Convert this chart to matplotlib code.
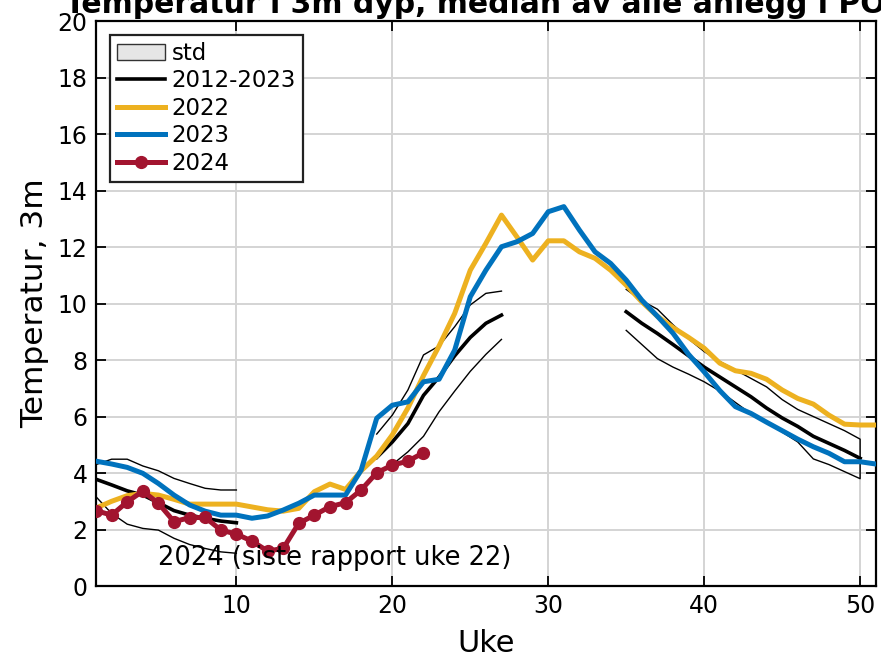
import numpy as np
import matplotlib
matplotlib.use("Agg")
import matplotlib.pyplot as plt
from matplotlib.patches import Patch
from matplotlib.lines import Line2D

nan = np.nan

# ---- data ----
weeks = np.arange(1, 52)

y2022 = [2.76, 3.00, 3.20, 3.28, 3.22, 3.07, 2.90, 2.90, 2.90, 2.90,
         2.80, 2.70, 2.65, 2.75, 3.34, 3.61, 3.42, 4.08, 4.60, 5.35,
         6.30, 7.45, 8.50, 9.65, 11.18, 12.13, 13.13, 12.35, 11.54, 12.22,
         12.22, 11.83, 11.60, 11.18, 10.65, 10.06, 9.55, 9.15, 8.80, 8.42,
         7.89, 7.62, 7.53, 7.32, 6.94, 6.64, 6.44, 6.05, 5.73, 5.70, 5.70]

y2023 = [4.42, 4.32, 4.20, 3.99, 3.63, 3.22, 2.87, 2.65, 2.51, 2.51,
         2.40, 2.48, 2.69, 2.93, 3.22, 3.22, 3.22, 4.10, 5.94, 6.40,
         6.52, 7.23, 7.32, 8.35, 10.24, 11.18, 12.01, 12.19, 12.48, 13.25,
         13.43, 12.60, 11.83, 11.42, 10.83, 10.12, 9.55, 8.95, 8.20, 7.58,
         6.92, 6.35, 6.11, 5.80, 5.50, 5.20, 4.93, 4.70, 4.40, 4.40, 4.32]

weeks_2024 = np.arange(1, 23)
y2024 = [2.67, 2.51, 2.98, 3.36, 2.93, 2.28, 2.42, 2.43, 1.98, 1.84,
         1.59, 1.24, 1.33, 2.22, 2.51, 2.81, 2.95, 3.40, 4.01, 4.28,
         4.42, 4.72]

weeks_std = np.arange(1, 51)
median_2012_2023 = [3.78, 3.58, 3.37, 3.22, 2.95, 2.67, 2.51, 2.40, 2.30, 2.24,
                    nan, nan, nan, nan, nan, nan, nan, nan, 4.55, 5.10,
                    5.75, 6.75, 7.40, 8.15, 8.80, 9.30, 9.59, nan, nan, nan,
                    nan, nan, nan, nan, 9.71, 9.30, 8.94, 8.55, 8.15, 7.75,
                    7.40, 7.05, 6.70, 6.30, 5.95, 5.65, 5.30, 5.05, 4.80, 4.52]
std_upper = [4.30, 4.49, 4.49, 4.25, 4.08, 3.81, 3.63, 3.46, 3.40, 3.40,
             nan, nan, nan, nan, nan, nan, nan, nan, 5.38, 6.05,
             6.94, 8.18, 8.50, 9.18, 9.95, 10.36, 10.44, nan, nan, nan,
             nan, nan, nan, nan, 10.50, 10.10, 9.80, 9.25, 8.75, 8.30,
             7.95, 7.65, 7.35, 7.05, 6.60, 6.25, 6.00, 5.75, 5.50, 5.20]
std_lower = [3.16, 2.57, 2.19, 2.04, 1.98, 1.69, 1.47, 1.33, 1.21, 1.16,
             nan, nan, nan, nan, nan, nan, nan, nan, 3.95, 4.30,
             4.75, 5.30, 6.17, 6.90, 7.60, 8.20, 8.73, nan, nan, nan,
             nan, nan, nan, nan, 9.05, 8.55, 8.05, 7.75, 7.50, 7.23,
             6.90, 6.50, 6.10, 5.80, 5.45, 5.10, 4.50, 4.30, 4.05, 3.80]

title = "Temperatur i 3m dyp, median av alle anlegg i PO3"
xlabel = "Uke"
ylabel = "Temperatur, 3m"
note = "2024 (siste rapport uke 22)"
legend_labels = ["std", "2012-2023", "2022", "2023", "2024"]

c2022 = "#EDB120"
c2023 = "#0072BD"
c2024 = "#A2142F"

plt.rcParams['font.family'] = ['DejaVu Sans']

fig = plt.figure(figsize=(8.81, 6.57), dpi=100)
ax = fig.add_axes([0.109, 0.108, 0.885, 0.860])

# std band outline (polygon edge, drawn as thin line)
wb = np.concatenate([weeks_std, weeks_std[::-1]])
yb = np.concatenate([np.array(std_upper), np.array(std_lower)[::-1]])
ax.plot(wb, yb, color="black", lw=1.0, zorder=3)

ax.plot(weeks_std, median_2012_2023, color="black", lw=2.6, zorder=4)
ax.plot(weeks, y2022, color=c2022, lw=3.6, zorder=5)
ax.plot(weeks, y2023, color=c2023, lw=3.6, zorder=6)
ax.plot(weeks_2024, y2024, color=c2024, lw=3.6, marker="o", ms=8.5, zorder=7)

ax.text(5.0, 1.0, note, fontsize=18.5, va="center", ha="left", zorder=8)

ax.set_xlim(1, 51)
ax.set_ylim(0, 20)
ax.set_xticks([10, 20, 30, 40, 50])
ax.set_yticks(np.arange(0, 21, 2))
ax.tick_params(direction="in", length=7, width=1.3, labelsize=17,
               top=True, right=True, pad=6)
ax.grid(True, color="#d4d4d4", lw=1.4)
ax.set_axisbelow(True)
for s in ax.spines.values():
    s.set_linewidth(1.6)

ax.set_xlabel(xlabel, fontsize=22, labelpad=8)
ax.set_ylabel(ylabel, fontsize=22.5, labelpad=6)
ax.set_title(title, fontsize=21.5, fontweight="bold", pad=6)

handles = [
    Patch(facecolor="#e6e6e6", edgecolor="#333333", lw=1.0),
    Line2D([], [], color="black", lw=2.6),
    Line2D([], [], color=c2022, lw=3.6),
    Line2D([], [], color=c2023, lw=3.6),
    Line2D([], [], color=c2024, lw=3.6, marker="o", ms=8.5),
]
leg = ax.legend(handles, legend_labels, loc="upper left", fontsize=16.5,
                frameon=True, fancybox=False, edgecolor="#222222",
                framealpha=1, borderaxespad=0.6, labelspacing=0.2,
                handlelength=2.1, handletextpad=0.3, borderpad=0.3)
leg.get_frame().set_linewidth(1.6)
leg.set_zorder(10)

fig.savefig("out.png", dpi=100)
